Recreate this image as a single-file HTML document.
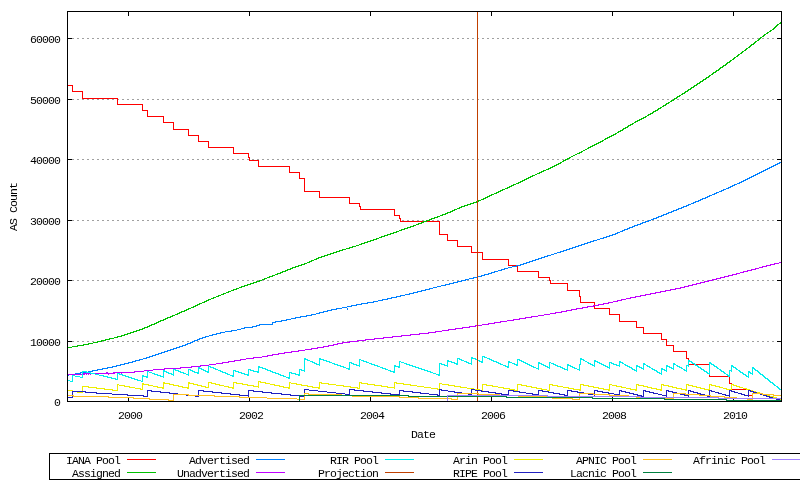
<!DOCTYPE html>
<html><head><meta charset="utf-8"><title>AS Count</title>
<style>
html,body{margin:0;padding:0;background:#fff;}
body{width:800px;height:480px;overflow:hidden;font-family:"Liberation Mono",monospace;}
svg{display:block;will-change:transform;}
</style></head><body>
<svg width="800" height="480" viewBox="0 0 800 480">
<rect width="800" height="480" fill="#fff"/>
<g fill="none" stroke-width="1" shape-rendering="crispEdges" transform="translate(0 0.5)">
<path stroke="#000000" d="M67 11h715M67 38h5M777 38h5M67 99h5M777 99h5M67 159h5M777 159h5M67 220h5M777 220h5M67 280h5M777 280h5M67 341h5M777 341h5M67 401h715M49 453h751M49 479h751"/>
<path stroke="#a0a0a0" d="M72 38h2M77 38h2M82 38h2M87 38h2M92 38h2M97 38h2M102 38h2M107 38h2M112 38h2M117 38h2M122 38h2M127 38h2M132 38h2M137 38h2M142 38h2M147 38h2M152 38h2M157 38h2M162 38h2M167 38h2M172 38h2M177 38h2M182 38h2M187 38h2M192 38h2M197 38h2M202 38h2M207 38h2M212 38h2M217 38h2M222 38h2M227 38h2M232 38h2M237 38h2M242 38h2M247 38h2M252 38h2M257 38h2M262 38h2M267 38h2M272 38h2M277 38h2M282 38h2M287 38h2M292 38h2M297 38h2M302 38h2M307 38h2M312 38h2M317 38h2M322 38h2M327 38h2M332 38h2M337 38h2M342 38h2M347 38h2M352 38h2M357 38h2M362 38h2M367 38h2M372 38h2M377 38h2M382 38h2M387 38h2M392 38h2M397 38h2M402 38h2M407 38h2M412 38h2M417 38h2M422 38h2M427 38h2M432 38h2M437 38h2M442 38h2M447 38h2M452 38h2M457 38h2M462 38h2M467 38h2M472 38h2M482 38h2M487 38h2M492 38h2M497 38h2M502 38h2M507 38h2M512 38h2M517 38h2M522 38h2M527 38h2M532 38h2M537 38h2M542 38h2M547 38h2M552 38h2M557 38h2M562 38h2M567 38h2M572 38h2M577 38h2M582 38h2M587 38h2M592 38h2M597 38h2M602 38h2M607 38h2M612 38h2M617 38h2M622 38h2M627 38h2M632 38h2M637 38h2M642 38h2M647 38h2M652 38h2M657 38h2M662 38h2M667 38h2M672 38h2M677 38h2M682 38h2M687 38h2M692 38h2M697 38h2M702 38h2M707 38h2M712 38h2M717 38h2M722 38h2M727 38h2M732 38h2M737 38h2M742 38h2M747 38h2M752 38h2M757 38h2M762 38h2M767 38h2M772 38h2M72 99h2M77 99h2M82 99h2M87 99h2M92 99h2M97 99h2M102 99h2M107 99h2M112 99h2M122 99h2M127 99h2M132 99h2M137 99h2M142 99h2M147 99h2M152 99h2M157 99h2M162 99h2M167 99h2M172 99h2M177 99h2M182 99h2M187 99h2M192 99h2M197 99h2M202 99h2M207 99h2M212 99h2M217 99h2M222 99h2M227 99h2M232 99h2M237 99h2M242 99h2M247 99h2M252 99h2M257 99h2M262 99h2M267 99h2M272 99h2M277 99h2M282 99h2M287 99h2M292 99h2M297 99h2M302 99h2M307 99h2M312 99h2M317 99h2M322 99h2M327 99h2M332 99h2M337 99h2M342 99h2M347 99h2M352 99h2M357 99h2M362 99h2M367 99h2M372 99h2M377 99h2M382 99h2M387 99h2M392 99h2M397 99h2M402 99h2M407 99h2M412 99h2M417 99h2M422 99h2M427 99h2M432 99h2M437 99h2M442 99h2M447 99h2M452 99h2M457 99h2M462 99h2M467 99h2M472 99h2M482 99h2M487 99h2M492 99h2M497 99h2M502 99h2M507 99h2M512 99h2M517 99h2M522 99h2M527 99h2M532 99h2M537 99h2M542 99h2M547 99h2M552 99h2M557 99h2M562 99h2M567 99h2M572 99h2M577 99h2M582 99h2M587 99h2M592 99h2M597 99h2M602 99h2M607 99h2M612 99h2M617 99h2M622 99h2M627 99h2M632 99h2M637 99h2M642 99h2M647 99h2M652 99h2M657 99h2M662 99h2M667 99h2M677 99h2M682 99h2M687 99h2M692 99h2M697 99h2M702 99h2M707 99h2M712 99h2M717 99h2M722 99h2M727 99h2M732 99h2M737 99h2M742 99h2M747 99h2M752 99h2M757 99h2M762 99h2M767 99h2M772 99h2M72 159h2M77 159h2M82 159h2M87 159h2M92 159h2M97 159h2M102 159h2M107 159h2M112 159h2M117 159h2M122 159h2M127 159h2M132 159h2M137 159h2M142 159h2M147 159h2M152 159h2M157 159h2M162 159h2M167 159h2M172 159h2M177 159h2M182 159h2M187 159h2M192 159h2M197 159h2M202 159h2M207 159h2M212 159h2M217 159h2M222 159h2M227 159h2M232 159h2M237 159h2M242 159h2M247 159h2M252 159h2M257 159h2M262 159h2M267 159h2M272 159h2M277 159h2M282 159h2M287 159h2M292 159h2M297 159h2M302 159h2M307 159h2M312 159h2M317 159h2M322 159h2M327 159h2M332 159h2M337 159h2M342 159h2M347 159h2M352 159h2M357 159h2M362 159h2M367 159h2M372 159h2M377 159h2M382 159h2M387 159h2M392 159h2M397 159h2M402 159h2M407 159h2M412 159h2M417 159h2M422 159h2M427 159h2M432 159h2M437 159h2M442 159h2M447 159h2M452 159h2M457 159h2M462 159h2M467 159h2M472 159h2M482 159h2M487 159h2M492 159h2M497 159h2M502 159h2M507 159h2M512 159h2M517 159h2M522 159h2M527 159h2M532 159h2M537 159h2M542 159h2M547 159h2M552 159h2M557 159h2M562 159h2M572 159h2M577 159h2M582 159h2M587 159h2M592 159h2M597 159h2M602 159h2M607 159h2M612 159h2M617 159h2M622 159h2M627 159h2M632 159h2M637 159h2M642 159h2M647 159h2M652 159h2M657 159h2M662 159h2M667 159h2M672 159h2M677 159h2M682 159h2M687 159h2M692 159h2M697 159h2M702 159h2M707 159h2M712 159h2M717 159h2M722 159h2M727 159h2M732 159h2M737 159h2M742 159h2M747 159h2M752 159h2M757 159h2M762 159h2M767 159h2M772 159h2M72 220h2M77 220h2M82 220h2M87 220h2M92 220h2M97 220h2M102 220h2M107 220h2M112 220h2M117 220h2M122 220h2M127 220h2M132 220h2M137 220h2M142 220h2M147 220h2M152 220h2M157 220h2M162 220h2M167 220h2M172 220h2M177 220h2M182 220h2M187 220h2M192 220h2M197 220h2M202 220h2M207 220h2M212 220h2M217 220h2M222 220h2M227 220h2M232 220h2M237 220h2M242 220h2M247 220h2M252 220h2M257 220h2M262 220h2M267 220h2M272 220h2M277 220h2M282 220h2M287 220h2M292 220h2M297 220h2M302 220h2M307 220h2M312 220h2M317 220h2M322 220h2M327 220h2M332 220h2M337 220h2M342 220h2M347 220h2M352 220h2M357 220h2M362 220h2M367 220h2M372 220h2M377 220h2M382 220h2M387 220h2M392 220h2M397 220h2M402 220h2M407 220h2M412 220h2M417 220h2M422 220h2M432 220h2M437 220h2M442 220h2M447 220h2M452 220h2M457 220h2M462 220h2M467 220h2M472 220h2M482 220h2M487 220h2M492 220h2M497 220h2M502 220h2M507 220h2M512 220h2M517 220h2M522 220h2M527 220h2M532 220h2M537 220h2M542 220h2M547 220h2M552 220h2M557 220h2M562 220h2M567 220h2M572 220h2M577 220h2M582 220h2M587 220h2M592 220h2M597 220h2M602 220h2M607 220h2M612 220h2M617 220h2M622 220h2M627 220h2M632 220h2M637 220h2M642 220h2M652 220h2M657 220h2M662 220h2M667 220h2M672 220h2M677 220h2M682 220h2M687 220h2M692 220h2M697 220h2M702 220h2M707 220h2M712 220h2M717 220h2M722 220h2M727 220h2M732 220h2M737 220h2M742 220h2M747 220h2M752 220h2M757 220h2M762 220h2M767 220h2M772 220h2M72 280h2M77 280h2M82 280h2M87 280h2M92 280h2M97 280h2M102 280h2M107 280h2M112 280h2M117 280h2M122 280h2M127 280h2M132 280h2M137 280h2M142 280h2M147 280h2M152 280h2M157 280h2M162 280h2M167 280h2M172 280h2M177 280h2M182 280h2M187 280h2M192 280h2M197 280h2M202 280h2M207 280h2M212 280h2M217 280h2M222 280h2M227 280h2M232 280h2M237 280h2M242 280h2M247 280h2M252 280h2M257 280h2M262 280h2M267 280h2M272 280h2M277 280h2M282 280h2M287 280h2M292 280h2M297 280h2M302 280h2M307 280h2M312 280h2M317 280h2M322 280h2M327 280h2M332 280h2M337 280h2M342 280h2M347 280h2M352 280h2M357 280h2M362 280h2M367 280h2M372 280h2M377 280h2M382 280h2M387 280h2M392 280h2M397 280h2M402 280h2M407 280h2M412 280h2M417 280h2M422 280h2M427 280h2M432 280h2M437 280h2M442 280h2M447 280h2M452 280h2M457 280h2M467 280h2M472 280h2M482 280h2M487 280h2M492 280h2M497 280h2M502 280h2M507 280h2M512 280h2M517 280h2M522 280h2M527 280h2M532 280h2M537 280h2M542 280h2M547 280h2M552 280h2M557 280h2M562 280h2M567 280h2M572 280h2M577 280h2M582 280h2M587 280h2M592 280h2M597 280h2M602 280h2M607 280h2M612 280h2M617 280h2M622 280h2M627 280h2M632 280h2M637 280h2M642 280h2M647 280h2M652 280h2M657 280h2M662 280h2M667 280h2M672 280h2M677 280h2M682 280h2M687 280h2M692 280h2M697 280h2M702 280h2M717 280h2M722 280h2M727 280h2M732 280h2M737 280h2M742 280h2M747 280h2M752 280h2M757 280h2M762 280h2M767 280h2M772 280h2M72 341h2M77 341h2M82 341h2M87 341h2M92 341h2M102 341h2M107 341h2M112 341h2M117 341h2M122 341h2M127 341h2M132 341h2M137 341h2M142 341h2M147 341h2M152 341h2M157 341h2M162 341h2M167 341h2M172 341h2M177 341h2M182 341h2M187 341h2M197 341h2M202 341h2M207 341h2M212 341h2M217 341h2M222 341h2M227 341h2M232 341h2M237 341h2M242 341h2M247 341h2M252 341h2M257 341h2M262 341h2M267 341h2M272 341h2M277 341h2M282 341h2M287 341h2M292 341h2M297 341h2M302 341h2M307 341h2M312 341h2M317 341h2M322 341h2M327 341h2M332 341h2M337 341h2M342 341h2M347 341h2M362 341h2M367 341h2M372 341h2M377 341h2M382 341h2M387 341h2M392 341h2M397 341h2M402 341h2M407 341h2M412 341h2M417 341h2M422 341h2M427 341h2M432 341h2M437 341h2M442 341h2M447 341h2M452 341h2M457 341h2M462 341h2M467 341h2M472 341h2M482 341h2M487 341h2M492 341h2M497 341h2M502 341h2M507 341h2M512 341h2M517 341h2M522 341h2M527 341h2M532 341h2M537 341h2M542 341h2M547 341h2M552 341h2M557 341h2M562 341h2M567 341h2M572 341h2M577 341h2M582 341h2M587 341h2M592 341h2M597 341h2M602 341h2M607 341h2M612 341h2M617 341h2M622 341h2M627 341h2M632 341h2M637 341h2M642 341h2M647 341h2M652 341h2M657 341h2M662 341h2M667 341h2M672 341h2M677 341h2M682 341h2M687 341h2M692 341h2M697 341h2M702 341h2M707 341h2M712 341h2M717 341h2M722 341h2M727 341h2M732 341h2M737 341h2M742 341h2M747 341h2M752 341h2M757 341h2M762 341h2M767 341h2M772 341h2"/>
<path stroke="#ff0000" d="M68 85h5M72 91h11M82 98h36M117 104h26M142 110h6M147 116h17M163 122h11M173 129h16M188 135h11M198 141h11M208 147h26M233 153h16M248 157h2M249 160h10M258 166h32M289 172h11M299 178h6M304 191h16M319 197h31M349 203h11M359 206h2M360 209h35M394 215h6M399 218h2M400 221h23M427 221h13M439 234h9M447 240h11M457 246h15M471 252h6M478 252h5M482 259h27M508 265h8M517 271h22M538 277h12M549 280h2M550 283h18M567 290h13M579 296h2M580 302h15M594 308h16M609 314h11M619 321h18M636 327h8M643 333h19M661 339h6M666 345h8M673 351h14M686 358h3M689 364h5M696 364h13M709 376h19M729 383h3M732 389h14M749 395h3M127 459h29"/>
<path stroke="#00c000" d="M779 23h2M777 24h2M776 25h2M775 26h2M774 27h2M773 28h2M772 29h2M770 30h2M769 31h2M767 32h2M766 33h2M764 34h2M763 35h2M762 36h2M760 37h2M759 38h2M758 39h2M757 40h2M755 41h2M754 42h2M753 43h2M751 44h3M750 45h2M749 46h2M748 47h2M746 48h2M745 49h2M744 50h2M742 51h2M741 52h2M740 53h2M738 54h2M737 55h2M736 56h2M734 57h2M733 58h2M732 59h2M730 60h2M729 61h2M727 62h3M726 63h2M725 64h2M723 65h3M722 66h2M720 67h3M719 68h2M718 69h2M716 70h3M715 71h2M713 72h3M712 73h2M711 74h2M709 75h2M708 76h2M706 77h3M705 78h2M703 79h3M702 80h2M700 81h3M699 82h2M697 83h3M696 84h2M694 85h3M693 86h2M691 87h3M690 88h2M688 89h3M687 90h2M685 91h3M684 92h2M682 93h3M681 94h2M679 95h2M677 96h3M676 97h2M674 98h3M673 99h2M671 100h3M670 101h2M668 102h2M666 103h3M665 104h2M663 105h3M662 106h2M660 107h2M658 108h3M657 109h2M655 110h3M653 111h3M652 112h2M650 113h3M648 114h3M647 115h2M645 116h2M643 117h3M641 118h3M639 119h3M637 120h3M635 121h3M634 122h2M632 123h2M630 124h3M628 125h3M627 126h2M625 127h3M623 128h3M622 129h2M620 130h3M618 131h3M617 132h2M615 133h2M613 134h3M611 135h3M609 136h3M607 137h3M605 138h3M604 139h2M602 140h2M600 141h3M598 142h3M596 143h3M594 144h3M592 145h3M590 146h3M588 147h3M587 148h2M585 149h2M583 150h2M581 151h2M579 152h3M577 153h3M575 154h2M573 155h2M571 156h2M569 157h2M567 158h3M565 159h3M563 160h3M562 161h2M560 162h2M558 163h3M556 164h3M554 165h3M552 166h3M550 167h3M548 168h3M546 169h3M543 170h3M541 171h3M539 172h3M537 173h3M535 174h2M532 175h3M530 176h3M528 177h3M526 178h3M524 179h3M522 180h3M520 181h3M518 182h3M516 183h3M513 184h3M511 185h3M509 186h3M507 187h3M505 188h3M502 189h3M500 190h3M498 191h3M496 192h3M494 193h3M491 194h3M489 195h3M487 196h3M485 197h3M483 198h3M481 199h3M478 200h3M473 202h4M470 203h4M467 204h4M464 205h4M461 206h4M459 207h3M457 208h3M454 209h3M452 210h3M450 211h3M447 212h4M445 213h3M442 214h4M440 215h3M437 216h3M434 217h4M431 218h4M429 219h3M426 220h4M423 221h4M421 222h3M418 223h4M416 224h3M413 225h3M410 226h4M407 227h4M404 228h4M401 229h4M399 230h3M396 231h3M393 232h4M390 233h4M387 234h4M384 235h4M381 236h4M379 237h3M376 238h3M373 239h4M370 240h4M367 241h4M364 242h4M361 243h4M359 244h3M356 245h3M352 246h4M349 247h4M346 248h4M342 249h4M339 250h4M336 251h4M333 252h4M330 253h4M327 254h4M324 255h4M321 256h4M318 257h4M316 258h3M314 259h3M311 260h3M309 261h3M307 262h3M304 263h3M301 264h4M298 265h4M295 266h4M292 267h4M290 268h3M287 269h4M285 270h3M282 271h4M280 272h3M277 273h4M275 274h3M272 275h3M269 276h4M267 277h3M264 278h3M262 279h3M259 280h3M256 281h4M253 282h4M250 283h4M247 284h4M244 285h4M241 286h4M239 287h3M236 288h3M233 289h4M231 290h3M228 291h3M226 292h3M223 293h3M221 294h3M218 295h3M216 296h3M213 297h3M211 298h3M208 299h3M206 300h3M204 301h3M202 302h3M199 303h3M197 304h3M195 305h3M193 306h3M191 307h3M188 308h3M186 309h3M184 310h3M181 311h4M179 312h3M177 313h3M175 314h3M172 315h3M170 316h3M167 317h4M165 318h3M163 319h3M160 320h4M158 321h3M156 322h3M154 323h3M151 324h4M149 325h3M147 326h3M144 327h4M142 328h3M139 329h4M136 330h4M133 331h4M130 332h4M127 333h4M124 334h4M121 335h4M117 336h5M114 337h4M109 338h5M105 339h5M101 340h5M97 341h5M93 342h5M88 343h5M83 344h6M77 345h7M72 346h6M68 347h4M127 472h29"/>
<path stroke="#0080ff" d="M779 162h2M777 163h3M775 164h3M773 165h3M771 166h3M769 167h3M767 168h3M765 169h3M763 170h3M761 171h3M759 172h3M757 173h3M755 174h3M753 175h3M751 176h3M749 177h3M747 178h3M745 179h3M743 180h3M741 181h3M739 182h3M737 183h3M734 184h3M732 185h3M730 186h3M728 187h3M726 188h3M723 189h3M721 190h3M719 191h3M716 192h3M714 193h3M712 194h3M709 195h3M707 196h3M705 197h3M702 198h4M700 199h3M698 200h3M695 201h4M693 202h3M691 203h3M688 204h3M686 205h3M683 206h4M681 207h3M678 208h4M676 209h3M673 210h4M671 211h3M668 212h4M666 213h3M663 214h4M661 215h3M658 216h4M656 217h3M653 218h4M651 219h3M648 220h3M645 221h4M642 222h4M640 223h3M637 224h4M634 225h4M632 226h3M629 227h4M627 228h3M624 229h4M622 230h3M620 231h3M617 232h3M615 233h3M612 234h4M609 235h4M606 236h4M603 237h4M600 238h4M597 239h3M593 240h4M590 241h4M587 242h4M584 243h4M581 244h4M578 245h4M575 246h4M572 247h4M569 248h4M566 249h4M563 250h4M560 251h4M557 252h4M554 253h3M551 254h3M547 255h4M544 256h4M541 257h4M538 258h4M535 259h4M532 260h4M529 261h4M526 262h4M523 263h4M520 264h4M516 265h5M512 266h5M508 267h4M504 268h4M501 269h4M498 270h4M494 271h4M491 272h4M488 273h4M484 274h5M481 275h4M478 276h4M473 277h4M469 278h5M465 279h4M461 280h5M457 281h5M453 282h5M449 283h5M445 284h5M441 285h5M437 286h4M433 287h4M429 288h4M425 289h5M421 290h5M417 291h5M413 292h5M409 293h5M405 294h5M400 295h5M396 296h5M391 297h6M387 298h5M382 299h6M378 300h5M373 301h5M367 302h7M361 303h7M356 304h6M351 305h6M347 306h5M342 307h5M336 308h6M331 309h6M327 310h5M323 311h5M319 312h5M316 313h4M311 314h5M306 315h6M300 316h7M295 317h6M291 318h5M286 319h5M281 320h6M275 321h7M272 322h4M259 324h14M256 325h4M252 326h5M244 327h9M241 328h4M237 329h4M231 330h6M225 331h7M220 332h5M216 333h5M212 334h5M209 335h4M205 336h4M202 337h4M199 338h4M197 339h3M194 340h4M192 341h3M190 342h3M187 343h4M185 344h3M182 345h4M179 346h4M176 347h4M173 348h4M170 349h4M167 350h4M164 351h4M161 352h4M158 353h4M155 354h4M152 355h4M149 356h4M146 357h4M143 358h4M139 359h4M135 360h5M132 361h4M128 362h5M124 363h5M120 364h5M116 365h5M112 366h5M107 367h6M102 368h6M97 369h6M92 370h6M88 371h5M80 372h2M83 372h3M75 373h6M256 459h29"/>
<path stroke="#c000ff" d="M779 262h2M774 263h5M770 264h5M766 265h5M762 266h5M759 267h4M755 268h4M751 269h5M747 270h5M743 271h5M740 272h4M736 273h4M732 274h5M728 275h5M724 276h5M720 277h5M716 278h5M712 279h5M708 280h5M704 281h5M700 282h5M696 283h5M692 284h5M688 285h5M684 286h5M680 287h5M675 288h6M670 289h6M665 290h6M660 291h6M655 292h6M650 293h6M645 294h6M640 295h6M635 296h6M630 297h6M626 298h5M621 299h5M617 300h5M613 301h5M608 302h5M603 303h6M598 304h6M593 305h6M587 306h7M582 307h6M576 308h7M571 309h6M566 310h6M561 311h6M555 312h7M550 313h6M544 314h6M538 315h6M531 316h7M525 317h7M519 318h7M513 319h7M507 320h7M500 321h7M494 322h7M488 323h7M482 324h7M475 325h2M478 325h4M469 326h7M462 327h8M455 328h8M448 329h8M442 330h7M435 331h7M428 332h8M419 333h10M410 334h10M401 335h10M392 336h10M383 337h10M374 338h10M365 339h10M357 340h9M349 341h9M342 342h8M337 343h6M333 344h5M328 345h6M323 346h6M317 347h7M311 348h7M305 349h7M298 350h7M291 351h8M284 352h8M278 353h7M272 354h7M267 355h6M262 356h6M253 357h9M246 358h8M240 359h6M234 360h7M228 361h7M222 362h7M216 363h7M209 364h7M200 365h9M191 366h10M180 367h12M164 368h17M153 369h12M144 370h9M134 371h10M106 372h2M113 372h22M83 373h7M95 373h20M68 374h14M83 374h2M256 472h29"/>
<path stroke="#00eeee" d="M482 356h3M471 357h2M484 357h3M304 358h2M319 358h2M457 358h3M471 358h5M487 358h3M580 358h2M304 359h4M319 359h5M359 359h2M459 359h3M475 359h2M489 359h3M517 359h3M580 359h4M307 360h3M323 360h4M361 360h3M447 360h2M461 360h3M478 360h2M491 360h3M519 360h3M583 360h2M594 360h2M688 360h2M310 361h3M326 361h4M363 361h4M399 361h2M447 361h5M464 361h3M479 361h4M493 361h4M508 361h2M521 361h3M585 361h2M594 361h4M619 361h2M688 361h4M312 362h3M329 362h3M349 362h3M366 362h3M401 362h3M451 362h4M466 362h3M481 362h2M496 362h3M508 362h4M523 362h3M538 362h2M549 362h2M587 362h2M597 362h3M609 362h3M619 362h4M691 362h2M709 362h2M314 363h3M332 363h3M351 363h3M369 363h3M404 363h3M439 363h3M454 363h4M468 363h4M498 363h3M512 363h3M525 363h3M538 363h4M551 363h3M588 363h3M599 363h3M611 363h3M622 363h2M643 363h2M673 363h2M692 363h3M709 363h3M316 364h4M334 364h4M353 364h4M371 364h4M406 364h4M441 364h4M456 364h2M500 364h3M514 364h4M527 364h3M541 364h3M553 364h3M567 364h2M579 364h2M590 364h3M601 364h3M613 364h4M624 364h2M643 364h3M673 364h3M694 364h2M711 364h3M337 365h4M356 365h4M374 365h4M394 365h2M409 365h4M444 365h4M503 365h3M516 365h2M529 365h3M543 365h3M555 365h3M567 365h4M592 365h3M603 365h3M616 365h4M625 365h3M636 365h2M646 365h2M666 365h2M676 365h2M686 365h3M695 365h3M713 365h2M731 365h2M208 366h3M258 366h2M340 366h4M377 366h3M394 366h6M412 366h4M505 366h4M531 366h3M545 366h3M557 366h4M570 366h3M605 366h3M627 366h3M636 366h4M647 366h3M666 366h4M677 366h3M697 366h2M714 366h3M731 366h3M198 367h2M210 367h4M258 367h5M343 367h3M380 367h3M398 367h2M415 367h4M507 367h2M533 367h3M547 367h3M560 367h3M572 367h3M607 367h3M629 367h3M639 367h3M649 367h2M669 367h3M679 367h3M698 367h3M716 367h2M733 367h3M752 367h2M198 368h4M213 368h3M262 368h4M346 368h4M382 368h4M418 368h4M536 368h3M562 368h3M574 368h3M631 368h2M641 368h3M651 368h2M661 368h2M671 368h3M681 368h2M700 368h2M717 368h2M735 368h2M752 368h3M173 369h3M188 369h3M201 369h3M215 369h3M248 369h3M265 369h3M299 369h3M348 369h2M385 369h3M421 369h4M564 369h4M577 369h3M632 369h3M652 369h3M661 369h4M683 369h2M701 369h3M719 369h2M736 369h2M754 369h2M163 370h2M175 370h4M190 370h3M203 370h3M218 370h3M233 370h3M250 370h4M267 370h4M301 370h4M388 370h3M424 370h4M634 370h3M654 370h3M664 370h3M684 370h3M703 370h2M720 370h2M729 370h3M738 370h2M755 370h3M82 371h5M147 371h2M163 371h4M178 371h3M192 371h3M205 371h4M220 371h3M235 371h4M253 371h6M270 371h3M390 371h5M427 371h4M656 371h2M704 371h3M721 371h3M739 371h2M748 371h2M757 371h2M86 372h5M149 372h3M166 372h3M180 372h4M194 372h5M207 372h2M222 372h4M238 372h4M257 372h2M272 372h4M289 372h3M393 372h2M430 372h3M657 372h3M706 372h2M723 372h2M740 372h3M748 372h3M758 372h2M90 373h5M117 373h3M152 373h3M168 373h4M183 373h3M197 373h2M225 373h3M241 373h4M275 373h4M291 373h5M433 373h3M659 373h3M707 373h3M724 373h2M742 373h2M750 373h3M759 373h2M95 374h4M119 374h4M154 374h4M171 374h3M186 374h3M227 374h3M244 374h5M278 374h3M295 374h5M436 374h4M726 374h2M743 374h3M760 374h3M72 375h3M99 375h5M122 375h4M142 375h2M157 375h4M230 375h4M247 375h2M280 375h4M298 375h2M438 375h2M727 375h3M745 375h2M762 375h2M75 376h5M103 376h5M125 376h4M142 376h6M160 376h4M232 376h2M283 376h3M728 376h2M746 376h3M763 376h2M80 377h3M107 377h5M128 377h4M146 377h2M286 377h4M764 377h2M111 378h5M131 378h4M288 378h2M765 378h3M115 379h3M134 379h4M767 379h2M68 380h2M137 380h4M768 380h2M70 381h3M141 381h2M769 381h2M770 382h3M772 383h2M773 384h2M774 385h2M776 386h2M777 387h2M778 388h2M779 389h2M385 459h29"/>
<path stroke="#c04000" d="M385 472h29"/>
<path stroke="#eeee00" d="M258 381h3M163 382h2M188 382h2M208 382h4M233 382h4M260 382h6M289 382h2M319 382h3M359 382h3M394 382h3M142 383h2M163 383h7M188 383h6M211 383h5M236 383h7M265 383h5M291 383h6M321 383h8M361 383h7M396 383h8M439 383h3M117 384h2M142 384h7M169 384h5M193 384h5M215 384h5M242 384h6M270 384h5M296 384h6M328 384h8M367 384h8M403 384h8M442 384h7M482 384h5M517 384h5M549 384h4M580 384h4M609 384h3M636 384h3M661 384h3M686 384h3M709 384h3M731 384h3M119 385h6M148 385h5M173 385h6M197 385h5M219 385h5M247 385h7M274 385h6M301 385h7M336 385h8M374 385h8M410 385h7M448 385h7M486 385h7M521 385h6M552 385h6M583 385h6M612 385h5M638 385h6M663 385h6M688 385h5M711 385h5M733 385h4M82 386h7M124 386h6M153 386h5M178 386h5M201 386h5M224 386h5M253 386h6M279 386h5M307 386h6M343 386h8M381 386h7M417 386h7M454 386h7M492 386h6M526 386h6M557 386h6M588 386h6M616 386h6M643 386h5M668 386h5M692 386h5M715 386h5M736 386h4M88 387h9M129 387h6M157 387h7M182 387h7M205 387h4M228 387h6M283 387h7M312 387h8M350 387h8M387 387h8M424 387h7M460 387h7M498 387h6M531 387h6M563 387h6M593 387h6M621 387h5M647 387h5M672 387h5M696 387h5M719 387h4M739 387h4M96 388h9M135 388h6M162 388h2M187 388h2M232 388h2M288 388h2M318 388h2M357 388h3M431 388h7M467 388h7M503 388h7M536 388h6M568 388h6M598 388h6M626 388h5M651 388h6M676 388h6M700 388h5M723 388h4M743 388h4M104 389h9M140 389h3M437 389h2M475 389h5M509 389h6M541 389h6M573 389h8M603 389h7M630 389h7M656 389h6M681 389h6M704 389h6M726 389h6M746 389h4M68 390h5M112 390h6M514 390h4M547 390h3M579 390h2M608 390h2M635 390h2M660 390h2M685 390h2M751 390h2M754 391h2M77 392h6M757 392h3M767 395h3M770 396h4M773 397h4M514 459h29"/>
<path stroke="#2020c0" d="M304 389h5M349 389h6M439 389h3M471 389h4M147 390h5M198 390h6M248 390h6M309 390h9M354 390h10M399 390h5M441 390h7M475 390h7M508 390h6M538 390h5M567 390h5M594 390h4M619 390h3M643 390h3M666 390h3M688 390h3M709 390h3M729 390h3M748 390h3M72 391h14M151 391h10M203 391h10M253 391h10M318 391h9M363 391h10M403 391h10M448 391h7M481 391h8M513 391h7M542 391h7M571 391h7M597 391h6M621 391h5M645 391h5M668 391h5M690 391h4M711 391h4M731 391h4M750 391h4M85 392h12M160 392h10M212 392h10M262 392h10M327 392h9M372 392h10M412 392h9M454 392h8M488 392h8M519 392h7M548 392h6M577 392h7M602 392h7M625 392h5M649 392h5M672 392h5M693 392h5M715 392h4M734 392h4M753 392h4M96 393h16M169 393h9M221 393h10M271 393h11M336 393h9M381 393h10M420 393h9M495 393h7M526 393h7M553 393h7M608 393h6M629 393h5M653 393h5M697 393h4M718 393h4M738 393h4M112 394h16M230 394h10M281 394h10M345 394h5M390 394h10M429 394h9M468 394h4M501 394h8M532 394h7M559 394h6M588 394h5M614 394h6M633 394h5M658 394h4M680 394h5M700 394h5M722 394h4M741 394h4M760 394h2M127 395h17M186 395h2M239 395h10M290 395h9M437 395h3M564 395h4M637 395h5M662 395h5M684 395h5M725 395h5M744 395h5M763 395h4M143 396h5M195 396h4M300 396h4M641 396h3M707 396h3M766 396h4M68 397h5M769 397h4M776 399h4M514 472h29"/>
<path stroke="#ffc020" d="M304 393h5M457 393h22M579 393h15M673 393h13M752 393h11M173 394h16M308 394h34M478 394h22M593 394h17M685 394h15M762 394h12M68 395h6M188 395h27M609 395h20M699 395h12M773 395h8M73 396h36M214 396h26M352 396h48M518 396h29M710 396h15M108 397h26M239 397h28M399 397h20M636 397h4M724 397h13M133 398h17M267 398h30M418 398h29M448 398h4M552 398h21M665 398h9M149 399h20M297 399h2M300 399h5M451 399h7M572 399h8M747 399h6M168 400h6M643 459h29"/>
<path stroke="#008040" d="M299 395h110M408 396h39M448 396h59M506 397h87M592 398h73M664 399h63M726 400h55M643 472h29"/>
<path stroke="#a080ff" d="M447 395h101M547 396h94M640 397h79M718 398h63M772 459h28"/>
</g>
<g fill="none" stroke-width="1" shape-rendering="crispEdges" transform="translate(0.5 0)">
<path stroke="#000000" d="M49 454v25M67 12v26M67 39v60M67 100v59M67 160v60M67 221v59M67 281v60M67 342v59M128 12v4M128 398v3M249 12v4M249 398v3M370 12v4M370 397v4M491 12v4M491 397v4M612 12v4M612 397v1M612 399v2M733 12v4M733 399v1M781 12v26M781 39v60M781 100v59M781 160v60M781 221v59M781 281v60M781 342v59"/>
<path stroke="#a0a0a0" d="M118 99v1M358 341v1M478 38v1M478 99v1M478 159v1M478 220v1M478 280v1M478 341v1M568 159v1M647 220v1M672 99v1M707 280v1M713 280v1"/>
<path stroke="#ff0000" d="M72 86v5M82 92v6M117 99v5M142 105v5M147 111v5M163 117v5M173 123v6M188 130v5M198 136v5M208 142v5M233 148v5M248 154v3M249 158v2M258 161v5M289 167v5M299 173v5M304 179v12M319 192v5M349 198v5M359 204v2M360 207v2M394 210v5M399 216v2M400 219v2M439 222v12M447 235v5M457 241v5M471 247v5M482 253v6M508 260v5M517 266v5M538 272v5M549 278v2M550 281v2M567 284v6M579 291v5M580 297v5M594 303v2M594 306v2M609 309v5M619 315v6M636 322v5M643 328v5M661 334v5M666 340v5M673 346v5M686 352v6M688 359v1M709 375v1M729 377v6"/>
<path stroke="#00c000" d="M476 201v1M478 201v1M780 22v1"/>
<path stroke="#0080ff" d="M68 375v1M272 323v1M347 308v2"/>
<path stroke="#c000ff" d="M86 374v1M88 374v1M90 374v1M108 374v1M121 373v1"/>
<path stroke="#00eeee" d="M72 376v5M82 372v5M117 374v5M142 377v4M147 372v4M163 372v4M163 377v1M173 370v4M173 375v1M188 370v4M188 375v1M198 369v3M208 367v4M233 371v4M248 370v4M258 368v3M289 373v4M299 370v4M304 360v10M304 371v1M319 360v4M319 365v1M349 363v5M359 360v5M359 366v1M394 367v4M399 362v4M439 364v10M447 362v3M447 366v1M457 359v4M471 359v4M471 364v1M482 357v4M508 363v3M517 360v4M538 364v4M538 369v1M549 363v4M549 368v1M567 366v3M567 370v1M579 365v4M579 370v1M580 360v4M594 362v3M594 366v1M609 363v4M609 368v1M619 363v2M619 366v1M636 367v3M636 371v1M643 365v3M643 369v1M661 370v3M661 374v1M666 367v3M666 371v1M673 365v3M673 369v1M686 366v4M686 371v1M688 362v3M688 366v1M709 364v9M709 374v1M729 371v4M731 367v3M731 371v1M748 373v3M748 377v1M752 369v4M752 374v1"/>
<path stroke="#c04000" d="M477 12v377M477 391v2M477 394v1M477 397v4"/>
<path stroke="#eeee00" d="M82 387v4M117 385v5M142 385v4M163 384v3M188 384v3M208 383v4M233 383v4M258 382v4M258 387v1M289 383v4M319 383v4M359 383v5M394 383v4M394 388v1M439 384v5M482 385v6M517 385v5M549 385v5M580 385v4M609 385v4M636 385v4M661 385v4M686 385v4M708 390v1M709 385v4M731 385v4M780 399v1"/>
<path stroke="#2020c0" d="M72 392v3M72 396v1M147 391v5M198 391v4M248 391v4M248 396v1M304 390v3M349 390v4M399 391v3M439 390v5M471 390v3M508 391v3M538 391v3M567 391v4M594 391v3M594 395v1M619 391v3M643 391v5M666 391v4M666 396v1M688 391v3M688 396v1M709 391v4M729 391v4M729 396v1M748 391v4M748 396v1"/>
<path stroke="#ffc020" d="M173 395v5M304 394v1M304 396v3M457 394v1M457 397v2M579 394v2M579 398v1M673 394v3M752 394v4"/>
<path stroke="#008040" d="M299 396v5"/>
<path stroke="#a080ff" d="M447 396v5"/>
</g>
<g font-family="'Liberation Mono', monospace" font-size="11.5px" fill="#000">
<text x="30 36 42 48 54" y="43">60000</text>
<text x="30 36 42 48 54" y="104">50000</text>
<text x="30 36 42 48 54" y="164">40000</text>
<text x="30 36 42 48 54" y="225">30000</text>
<text x="30 36 42 48 54" y="285">20000</text>
<text x="30 36 42 48 54" y="346">10000</text>
<text x="54" y="406">0</text>
<text x="118 124 130 136" y="419">2000</text>
<text x="239 245 251 257" y="419">2002</text>
<text x="360 366 372 378" y="419">2004</text>
<text x="481 487 493 499" y="419">2006</text>
<text x="602 608 614 620" y="419">2008</text>
<text x="723 729 735 741" y="419">2010</text>
<text x="411 417 423 429" y="438">Date</text>
<text transform="translate(17 230) rotate(-90)" x="-1 5 11 17 23 29 35 41" y="0">AS Count</text>
<text x="66 72 78 84 90 96 102 108 114" y="464">IANA Pool</text>
<text x="72 78 84 90 96 102 108 114" y="477">Assigned</text>
<text x="189 195 201 207 213 219 225 231 237 243" y="464">Advertised</text>
<text x="177 183 189 195 201 207 213 219 225 231 237 243" y="477">Unadvertised</text>
<text x="330 336 342 348 354 360 366 372" y="464">RIR Pool</text>
<text x="318 324 330 336 342 348 354 360 366 372" y="477">Projection</text>
<text x="453 459 465 471 477 483 489 495 501" y="464">Arin Pool</text>
<text x="453 459 465 471 477 483 489 495 501" y="477">RIPE Pool</text>
<text x="576 582 588 594 600 606 612 618 624 630" y="464">APNIC Pool</text>
<text x="570 576 582 588 594 600 606 612 618 624 630" y="477">Lacnic Pool</text>
<text x="693 699 705 711 717 723 729 735 741 747 753 759" y="464">Afrinic Pool</text>
</g>
</svg>
</body></html>
